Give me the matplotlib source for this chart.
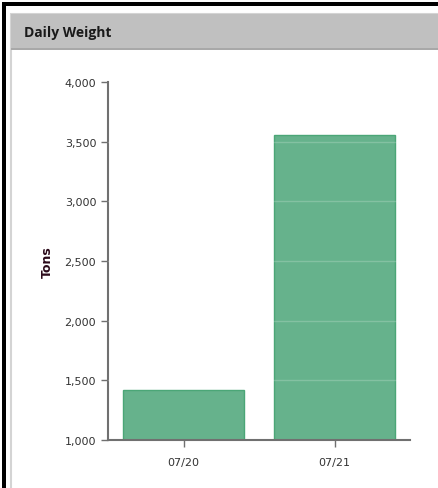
import matplotlib
matplotlib.use("Agg")
import matplotlib.pyplot as plt
from matplotlib.patches import Rectangle
from matplotlib.ticker import FuncFormatter, MultipleLocator

categories = ["07/20", "07/21"]
values = [1420, 3555]
title = "Daily Weight"
ylabel = "Tons"

W, H = 438, 489
fig = plt.figure(figsize=(W / 100, H / 100), dpi=100)

def px(x, y, w, h):
    return (x / W, 1 - (y + h) / H, w / W, h / H)

def rect(x, y, w, h, **kw):
    l, b, ww, hh = px(x, y, w, h)
    fig.patches.append(Rectangle((l, b), ww, hh, transform=fig.transFigure,
                                 zorder=-10, **kw))

# outer black frame
rect(2, 3, 440, 4, facecolor="black", edgecolor="none")
rect(2, 3, 4, 490, facecolor="black", edgecolor="none")
# panel
rect(11, 15, 430, 480, facecolor="white", edgecolor="#d4d4d4", linewidth=1.5)
rect(11, 15, 430, 36, facecolor="#c0c0c0", edgecolor="none")
rect(11, 49, 430, 2, facecolor="#a8a8a8", edgecolor="none")
fig.text(24 / W, 1 - 33.5 / H, title, fontsize=10, fontweight="bold",
         family="Open Sans", color="#1a1a1a", va="center", ha="left")

ax = fig.add_axes([108 / W, 1 - 441 / H, (410 - 108) / W, (441 - 83) / H])
x = range(len(categories))
ax.bar(x, values, width=0.8, bottom=0, color="#66b28c", edgecolor="#4ba677",
       linewidth=1.0, zorder=2)
for v in range(1500, 4000, 500):
    ax.axhline(v, color="white", alpha=0.2, linewidth=1, zorder=3)

ax.set_xlim(-0.5, 1.5)
ax.set_ylim(1000, 4000)
ax.set_xticks(list(x))
ax.set_xticklabels(categories)
ax.yaxis.set_major_locator(MultipleLocator(500))
ax.yaxis.set_major_formatter(FuncFormatter(lambda v, p: f"{int(v):,}"))
for s in ["top", "right"]:
    ax.spines[s].set_visible(False)
for s in ["left", "bottom"]:
    ax.spines[s].set_color("#707070")
    ax.spines[s].set_linewidth(1.5)
ax.tick_params(axis="both", colors="#707070", labelcolor="#333333", labelsize=8,
               length=5, width=1)
ax.tick_params(axis="x", pad=7)
ax.set_ylabel(ylabel, fontsize=9, fontweight="bold", color="#2b0a1a", labelpad=8)
ax.set_facecolor("none")

fig.savefig("out.png", dpi=100)
